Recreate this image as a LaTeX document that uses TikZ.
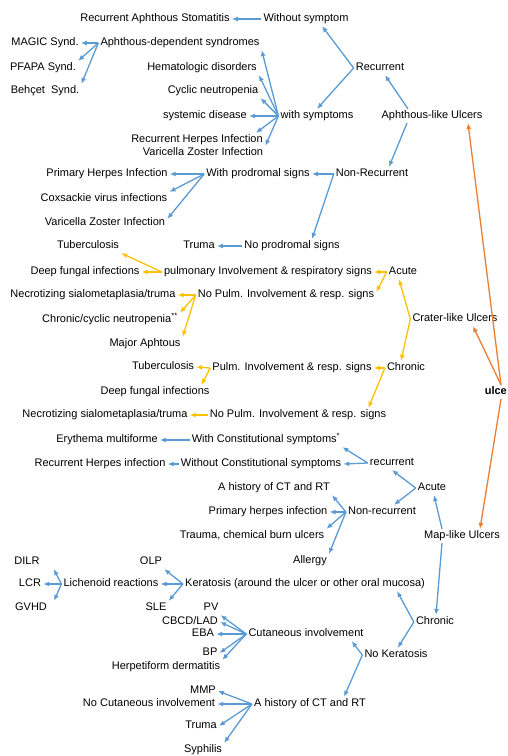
\documentclass[tikz,border=0pt]{standalone}
\usepackage{fontspec}
\setmainfont{Liberation Sans}
\usetikzlibrary{arrows.meta}
\definecolor{ulcerblue}{RGB}{91,155,213}
\definecolor{crateryellow}{RGB}{255,192,0}
\definecolor{rootorange}{RGB}{237,125,49}

\begin{document}
\begin{tikzpicture}[
  x=1pt,y=-1pt,
  font=\fontsize{11}{13}\selectfont,
  >={Latex[length=6pt,width=5pt]},
  txt/.style={inner sep=2pt,text height=7.8pt,text depth=2pt},
  barrow/.style={->,draw=ulcerblue,line width=1.3pt},
  yarrow/.style={->,draw=crateryellow,line width=1.3pt},
  oarrow/.style={->,draw=rootorange,line width=1.3pt}
]
  \useasboundingbox (0,0) rectangle (507,756);

  % aphthous-like ulcers
  \node[txt] (stomat) at (155,19) {Recurrent Aphthous Stomatitis};
  \node[txt] (withoutsym) at (306,19) {Without symptom};
  \node[txt] (magic) at (45,43) {MAGIC Synd.};
  \node[txt] (aphdep) at (180,43) {Aphthous-dependent syndromes};
  \node[txt] (pfapa) at (43,68) {PFAPA Synd.};
  \node[txt] (hemat) at (202,68) {Hematologic disorders};
  \node[txt] (recurrent) at (380,68) {Recurrent};
  \node[txt] (behcet) at (45,91) {Behçet\ \ Synd.};
  \node[txt] (cyclic) at (213,91) {Cyclic neutropenia};
  \node[txt] (systemic) at (205,116) {systemic disease};
  \node[txt] (withsym) at (317,116) {with symptoms};
  \node[txt] (aphlike) at (432,116) {Aphthous-like Ulcers};
  \node[txt] (recherpes) at (197,140) {Recurrent Herpes Infection};
  \node[txt] (varzos) at (203,153) {Varicella Zoster Infection};
  \node[txt] (primherp) at (107,174) {Primary Herpes Infection};
  \node[txt] (withprod) at (258,174) {With prodromal signs};
  \node[txt] (nonrec) at (372,174) {Non-Recurrent};
  \node[txt] (coxs) at (104,199) {Coxsackie virus infections};
  \node[txt] (varzostwo) at (105,223) {Varicella Zoster Infection};
  \node[txt] (trumaone) at (199,246) {Truma};
  \node[txt] (noprod) at (292,246) {No prodromal signs};

  \draw[barrow] (withoutsym.west) -- (stomat.east);
  \draw[barrow] (aphdep.west) -- (magic.east);
  \draw[barrow] (aphdep.west) -- (pfapa.north east);
  \draw[barrow] (aphdep.west) -- (behcet.north east);
  \draw[barrow] (withsym.west) -- (aphdep.south east);
  \draw[barrow] (withsym.west) -- (hemat.south east);
  \draw[barrow] (withsym.west) -- (cyclic.south east);
  \draw[barrow] (withsym.west) -- (systemic.east);
  \draw[barrow] (withsym.west) -- ([xshift=-9pt]recherpes.north east);
  \draw[barrow] (withsym.west) -- (varzos.north east);
  \draw[barrow] (recurrent.west) -- ([xshift=16pt]withoutsym.south);
  \draw[barrow] (recurrent.west) -- (withsym.north);
  \draw[barrow] ([xshift=-24pt]aphlike.north) -- ([xshift=5pt]recurrent.south);
  \draw[barrow] ([xshift=-25pt]aphlike.south) -- ([xshift=17pt]nonrec.north);
  \draw[barrow] (nonrec.west) -- (withprod.east);
  \draw[barrow] (nonrec.west) -- ([xshift=20pt]noprod.north);
  \draw[barrow] (withprod.west) -- (primherp.east);
  \draw[barrow] (withprod.west) -- (coxs.north east);
  \draw[barrow] (withprod.west) -- ([yshift=-3pt]varzostwo.north east);
  \draw[barrow] (noprod.west) -- (trumaone.east);

  % crater-like ulcers
  \node[txt] (tbone) at (88,246) {Tuberculosis};
  \node[txt] (fungalone) at (85,272) {Deep fungal infections};
  \node[txt] (pulmone) at (268,272) {pulmonary Involvement \& respiratory signs};
  \node[txt] (acuteone) at (403,272) {Acute};
  \node[txt] (necroone) at (93,295) {Necrotizing sialometaplasia/truma};
  \node[txt] (nopulmone) at (286,295) {No Pulm. Involvement \& resp. signs};
  \node[txt] (neutro) at (110,320) {Chronic/cyclic neutropenia\textsuperscript{**}};
  \node[txt] (crater) at (455,319) {Crater-like Ulcers};
  \node[txt] (major) at (145,344) {Major Aphtous};
  \node[txt] (tbtwo) at (163,367) {Tuberculosis};
  \node[txt] (pulmtwo) at (292,368) {Pulm. Involvement \& resp. signs};
  \node[txt] (chronicone) at (406,368) {Chronic};
  \node[txt] (fungaltwo) at (155,392) {Deep fungal infections};
  \node[txt] (necrotwo) at (105,415) {Necrotizing sialometaplasia/truma};
  \node[txt] (nopulmtwo) at (298,415) {No Pulm. Involvement \& resp. signs};
  \node[txt,font=\fontsize{11}{13}\selectfont\bfseries,anchor=east] (ulce) at (509,392) {ulce};

  \draw[yarrow] (pulmone.west) -- (tbone.south east);
  \draw[yarrow] (pulmone.west) -- (fungalone.east);
  \draw[yarrow] (acuteone.west) -- (pulmone.east);
  \draw[yarrow] (acuteone.west) -- ([yshift=3pt]nopulmone.east);
  \draw[yarrow] (nopulmone.west) -- (necroone.east);
  \draw[yarrow] (nopulmone.west) -- (neutro.north east);
  \draw[yarrow] (nopulmone.west) -- (major.north east);
  \draw[yarrow] (crater.west) -- ([xshift=-4pt]acuteone.south);
  \draw[yarrow] (crater.west) -- ([xshift=-5pt]chronicone.north);
  \draw[yarrow] (chronicone.west) -- (pulmtwo.east);
  \draw[yarrow] (chronicone.west) -- ([xshift=-20pt]nopulmtwo.north east);
  \draw[yarrow] (pulmtwo.west) -- (tbtwo.east);
  \draw[yarrow] (pulmtwo.west) -- ([xshift=-10pt]fungaltwo.north east);
  \draw[yarrow] (nopulmtwo.west) -- (necrotwo.east);

  % map-like ulcers
  \node[txt] (erythema) at (107,440) {Erythema multiforme};
  \node[txt] (withconst) at (266,440) {With Constitutional symptoms\textsuperscript{*}};
  \node[txt] (rhi) at (100,464) {Recurrent Herpes infection};
  \node[txt] (withoutconst) at (261,464) {Without Constitutional symptoms};
  \node[txt] (recurrenttwo) at (392,463) {recurrent};
  \node[txt] (historyone) at (274,488) {A history of CT and RT};
  \node[txt] (acutetwo) at (432,488) {Acute};
  \node[txt] (primherptwo) at (268,512) {Primary herpes infection};
  \node[txt] (nonrectwo) at (382,512) {Non-recurrent};
  \node[txt] (trauma) at (252,536) {Trauma, chemical burn ulcers};
  \node[txt] (maplike) at (462,536) {Map-like Ulcers};
  \node[txt] (allergy) at (310,561) {Allergy};
  \node[txt] (dilr) at (27,562) {DILR};
  \node[txt] (olp) at (151,562) {OLP};
  \node[txt] (lcr) at (30,584) {LCR};
  \node[txt] (lichen) at (111,584) {Lichenoid reactions};
  \node[txt] (kerat) at (305,584) {Keratosis (around the ulcer or other oral mucosa)};
  \node[txt] (gvhd) at (31,608) {GVHD};
  \node[txt] (sle) at (156,608) {SLE};
  \node[txt] (pv) at (211,608) {PV};
  \node[txt] (cbcd) at (190,622) {CBCD/LAD};
  \node[txt] (chronictwo) at (435,622) {Chronic};
  \node[txt] (eba) at (203,634) {EBA};
  \node[txt] (cutan) at (306,634) {Cutaneous involvement};
  \node[txt] (bp) at (210,653) {BP};
  \node[txt] (nokerat) at (396,655) {No Keratosis};
  \node[txt] (herpet) at (166,667) {Herpetiform dermatitis};
  \node[txt] (mmp) at (203,691) {MMP};
  \node[txt] (nocutan) at (149,704) {No Cutaneous involvement};
  \node[txt] (historytwo) at (310,704) {A history of CT and RT};
  \node[txt] (trumatwo) at (201,726) {Truma};
  \node[txt] (syph) at (203,750) {Syphilis};

  \draw[oarrow] ([xshift=-8pt]ulce.north east) -- ([xshift=36pt]aphlike.south);
  \draw[oarrow] ([xshift=-8pt]ulce.north east) -- ([xshift=18pt]crater.south);
  \draw[oarrow] ([xshift=-8pt]ulce.south east) -- ([xshift=18pt]maplike.north);

  \draw[barrow] (withconst.west) -- (erythema.east);
  \draw[barrow] (withoutconst.west) -- (rhi.east);
  \draw[barrow] (recurrenttwo.west) -- (withconst.south east);
  \draw[barrow] (recurrenttwo.west) -- (withoutconst.east);
  \draw[barrow] (acutetwo.west) -- (recurrenttwo.south);
  \draw[barrow] (acutetwo.west) -- ([xshift=12pt]nonrectwo.north);
  \draw[barrow] ([xshift=-20pt]maplike.north) -- ([xshift=2pt]acutetwo.south);
  \draw[barrow] ([xshift=-20pt]maplike.south) -- ([xshift=1pt]chronictwo.north);
  \draw[barrow] (nonrectwo.west) -- (historyone.south east);
  \draw[barrow] (nonrectwo.west) -- (primherptwo.east);
  \draw[barrow] (nonrectwo.west) -- (trauma.north east);
  \draw[barrow] (nonrectwo.west) -- (allergy.north east);
  \draw[barrow] (chronictwo.west) -- ([xshift=-30pt]kerat.south east);
  \draw[barrow] (chronictwo.west) -- ([xshift=-32pt]nokerat.north east);
  \draw[barrow] (kerat.west) -- (olp.south east);
  \draw[barrow] (kerat.west) -- (lichen.east);
  \draw[barrow] (kerat.west) -- (sle.north east);
  \draw[barrow] (lichen.west) -- ([xshift=12pt]dilr.south east);
  \draw[barrow] (lichen.west) -- (lcr.east);
  \draw[barrow] (lichen.west) -- ([xshift=5pt]gvhd.north east);
  \draw[barrow] (nokerat.west) -- ([xshift=-14pt]cutan.south east);
  \draw[barrow] (nokerat.west) -- ([xshift=-24pt]historytwo.north east);
  \draw[barrow] (cutan.west) -- (pv.south east);
  \draw[barrow] (cutan.west) -- (cbcd.east);
  \draw[barrow] (cutan.west) -- (eba.east);
  \draw[barrow] (cutan.west) -- (bp.east);
  \draw[barrow] (cutan.west) -- (herpet.north east);
  \draw[barrow] (historytwo.west) -- (mmp.east);
  \draw[barrow] (historytwo.west) -- (nocutan.east);
  \draw[barrow] (historytwo.west) -- (trumatwo.east);
  \draw[barrow] (historytwo.west) -- (syph.north east);
\end{tikzpicture}
\end{document}
